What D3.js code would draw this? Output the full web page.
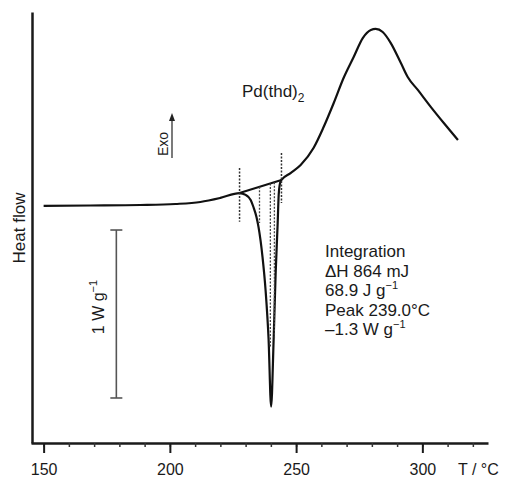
<!DOCTYPE html>
<html><head><meta charset="utf-8">
<script src="https://cdn.jsdelivr.net/npm/d3@7"></script>
<style>
body{margin:0;background:#fff}
text{font-family:"Liberation Sans",Arial,sans-serif;fill:#1a1a1a}
</style></head>
<body><svg id="c" width="505" height="478"></svg>
<script>
// ---- data ----
const temps    = [150, 168.5, 188.3, 202.2, 212.1, 220, 227.6, 230.0, 232.0, 233.1, 234.3, 235.1, 236.7, 237.9, 239.1, 240.1, 241.1, 241.9, 242.7, 243.1, 243.5, 244.2, 247.8, 251.8, 256.9, 260.9, 264.9, 268.8, 272.8, 276.4, 279.6, 281.5, 284.3, 287.5, 291.5, 294.2, 298.2, 303.4, 308.5, 314.1];
const heatFlow = [-0.005, -0.003, 0, 0.006, 0.018, 0.042, 0.071, 0.060, 0.030, -0.012, -0.071, -0.13, -0.31, -0.506, -0.80, -1.20, -0.80, -0.405, -0.107, 0.06, 0.12, 0.149, 0.19, 0.238, 0.339, 0.464, 0.607, 0.756, 0.881, 0.994, 1.042, 1.048, 1.030, 0.964, 0.845, 0.762, 0.685, 0.583, 0.488, 0.387];
const integT = [227.6, 244.2];          // integration limits
const integBase = [0.071, 0.149];       // baseline at the limits
const limitTop = [0.22, 0.31];          // dashed limit markers
const limitBottom = [-0.10, 0.012];
const hatchT = [235.5, 239.8, 241.4];
const hatchLow = [-0.107, -0.845, -0.80];
const majorTicks = [150, 200, 250, 300];
const minorTicks = [150, 160, 170, 180, 190, 200, 210, 220, 230, 240, 250, 260, 270, 280, 290, 300, 310, 320];
const scaleBarT = 178.8;
const scaleBarV = [-0.149, -1.149];     // 1 W g^-1
const annotation = ["Integration", "\u0394H 864 mJ", "68.9 J g", "Peak 239.0\u00B0C", "\u20131.3 W g"];
const annotationSup = ["", "", "\u22121", "", "\u22121"];

// ---- scales ----
const svg = d3.select("#c");
const x = d3.scaleLinear().domain([145, 326]).range([31, 488]);
const y = d3.scaleLinear().domain([-1.417, 1.149]).range([443, 12]);

// axes
const gx = svg.append("g").attr("transform", `translate(0,${y.range()[0]})`);
gx.call(d3.axisBottom(x).tickValues(minorTicks).tickSize(4).tickSizeOuter(0).tickFormat(""));
gx.select(".domain").attr("stroke", "#1a1a1a").attr("stroke-width", 2.5);
gx.selectAll(".tick line").attr("stroke", "#333").attr("stroke-width", 1.5);
const gx2 = svg.append("g").attr("transform", `translate(0,${y.range()[0]})`);
gx2.call(d3.axisBottom(x).tickValues(majorTicks).tickSize(10).tickPadding(11).tickSizeOuter(0));
gx2.select(".domain").remove();
gx2.selectAll(".tick line").attr("stroke", "#1a1a1a").attr("stroke-width", 2);
gx2.selectAll(".tick text").attr("font-size", 16).attr("font-family", "Liberation Sans, Arial, sans-serif").attr("fill", "#1a1a1a");

const gy = svg.append("g").attr("transform", `translate(${x.range()[0] + 1},0)`);
gy.call(d3.axisLeft(y).tickValues([]).tickSizeOuter(0));
gy.select(".domain").attr("stroke", "#1a1a1a").attr("stroke-width", 2.5);

// axis labels
svg.append("text").attr("x", 458).attr("y", 475).attr("font-size", 16).text("T / \u00B0C");
svg.append("text").attr("transform", "translate(25,228) rotate(-90)").attr("text-anchor", "middle")
  .attr("font-size", 17).text("Heat flow");

// curve
const pts = temps.map((t, i) => [t, heatFlow[i]]);
svg.append("path").datum(pts)
  .attr("fill", "none").attr("stroke", "#111").attr("stroke-width", 2.2).attr("stroke-linejoin", "round")
  .attr("d", d3.line().x(d => x(d[0])).y(d => y(d[1])).curve(d3.curveMonotoneX));

// integration baseline
svg.append("line")
  .attr("x1", x(integT[0])).attr("y1", y(integBase[0]))
  .attr("x2", x(integT[1])).attr("y2", y(integBase[1]))
  .attr("stroke", "#111").attr("stroke-width", 2);

// limit markers (dashed)
integT.forEach((t, i) => {
  svg.append("line").attr("x1", x(t)).attr("x2", x(t))
    .attr("y1", y(limitTop[i])).attr("y2", y(limitBottom[i]))
    .attr("stroke", "#333").attr("stroke-width", 1.5).attr("stroke-dasharray", "2,1.5");
});
// hatch lines inside the peak
const baseAt = t => integBase[0] + (integBase[1] - integBase[0]) * (t - integT[0]) / (integT[1] - integT[0]);
hatchT.forEach((t, i) => {
  svg.append("line").attr("x1", x(t)).attr("x2", x(t))
    .attr("y1", y(baseAt(t))).attr("y2", y(hatchLow[i]))
    .attr("stroke", "#444").attr("stroke-width", 1.3).attr("stroke-dasharray", "2,1.5");
});

// scale bar
const sb = svg.append("g").attr("stroke", "#555").attr("stroke-width", 1.6);
sb.append("line").attr("x1", x(scaleBarT)).attr("x2", x(scaleBarT)).attr("y1", y(scaleBarV[0])).attr("y2", y(scaleBarV[1]));
scaleBarV.forEach(v => sb.append("line").attr("x1", x(scaleBarT) - 6).attr("x2", x(scaleBarT) + 6).attr("y1", y(v)).attr("y2", y(v)));
const sbt = svg.append("text").attr("transform", "translate(104,307) rotate(-90)").attr("text-anchor", "middle").attr("font-size", 16);
sbt.append("tspan").text("1 W g");
sbt.append("tspan").attr("dy", -7).attr("font-size", 11).text("\u22121");

// Exo arrow
svg.append("line").attr("x1", 172).attr("x2", 172).attr("y1", 158).attr("y2", 119).attr("stroke", "#333").attr("stroke-width", 1.3);
svg.append("path").attr("d", "M172,113 L169,121 L175,121 Z").attr("fill", "#222");
svg.append("text").attr("transform", "translate(168,144) rotate(-90)").attr("text-anchor", "middle").attr("font-size", 14).text("Exo");

// title
const tt = svg.append("text").attr("x", 242).attr("y", 97).attr("font-size", 17);
tt.append("tspan").text("Pd(thd)");
tt.append("tspan").attr("dy", 5).attr("font-size", 12).text("2");

// annotation block
annotation.forEach((s, i) => {
  const t = svg.append("text").attr("x", 325).attr("y", 257 + i * 19.5).attr("font-size", 17);
  t.append("tspan").text(s);
  if (annotationSup[i]) t.append("tspan").attr("dy", -7).attr("font-size", 11).text(annotationSup[i]);
});
</script></body></html>
